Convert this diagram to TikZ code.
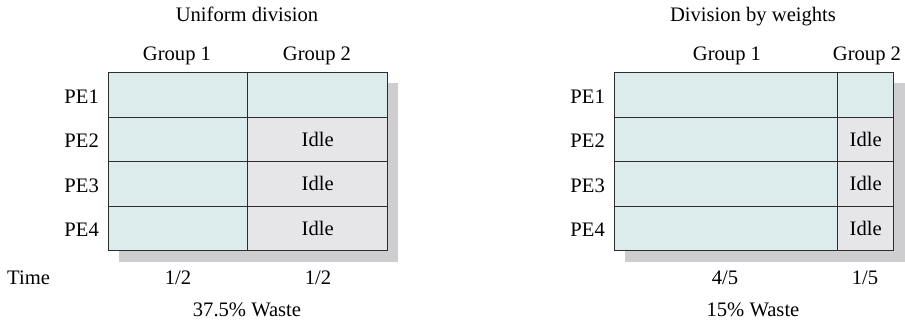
\documentclass[tikz,border=0pt]{standalone}
\usepackage{fontspec}
\setmainfont{Liberation Serif}
\definecolor{work}{RGB}{220,236,236}
\definecolor{idle}{RGB}{230,230,232}
\definecolor{shade}{RGB}{206,206,208}
\definecolor{edge}{RGB}{45,45,45}
\begin{document}
\begin{tikzpicture}[x=1pt,y=-1pt,
  every node/.style={font=\fontsize{20.6}{24}\selectfont, text=black},
  cell/.style={draw=edge, line width=1.3pt, inner sep=0pt, anchor=north west, minimum height=44.5pt},
  workcell/.style={cell, fill=work},
  idlecell/.style={cell, fill=idle},
  lbl/.style={anchor=base, inner sep=0pt},
  rlbl/.style={anchor=base east, inner sep=0pt},
  shadow/.style={fill=shade, draw=none}]
\useasboundingbox (0,0) rectangle (905,322);
% ---------- Left: uniform division ----------
\fill[shadow] (119,83) rectangle (398,262);
\node[workcell, minimum width=139pt] (l11) at (108,72) {};
\node[workcell, minimum width=140pt] (l12) at (247,72) {};
\node[workcell, minimum width=139pt] (l21) at (108,116.5) {};
\node[idlecell, minimum width=140pt] (l22) at (247,116.5) {Idle};
\node[workcell, minimum width=139pt] (l31) at (108,161) {};
\node[idlecell, minimum width=140pt] (l32) at (247,161) {Idle};
\node[workcell, minimum width=139pt] (l41) at (108,205.5) {};
\node[idlecell, minimum width=140pt] (l42) at (247,205.5) {Idle};
\node[lbl] (ltitle) at (247,21) {Uniform division};
\node[lbl] (lg1) at (177,60) {Group 1};
\node[lbl] (lg2) at (317,60) {Group 2};
\node[rlbl] (lpe1) at (99,103) {PE1};
\node[rlbl] (lpe2) at (99,147.5) {PE2};
\node[rlbl] (lpe3) at (99,192) {PE3};
\node[rlbl] (lpe4) at (99,236.5) {PE4};
\node[anchor=base west, inner sep=0pt] (time) at (7,284) {Time};
\node[lbl] (lt1) at (178,284) {1/2};
\node[lbl] (lt2) at (318,284) {1/2};
\node[lbl] (lwaste) at (247,316) {37.5\% Waste};
% ---------- Right: division by weights ----------
\fill[shadow] (625,83) rectangle (905,262);
\node[workcell, minimum width=223pt] (r11) at (614,72) {};
\node[workcell, minimum width=56pt] (r12) at (837,72) {};
\node[workcell, minimum width=223pt] (r21) at (614,116.5) {};
\node[idlecell, minimum width=56pt] (r22) at (837,116.5) {Idle};
\node[workcell, minimum width=223pt] (r31) at (614,161) {};
\node[idlecell, minimum width=56pt] (r32) at (837,161) {Idle};
\node[workcell, minimum width=223pt] (r41) at (614,205.5) {};
\node[idlecell, minimum width=56pt] (r42) at (837,205.5) {Idle};
\node[lbl] (rtitle) at (753,21) {Division by weights};
\node[lbl] (rg1) at (727,60) {Group 1};
\node[lbl] (rg2) at (867,60) {Group 2};
\node[rlbl] (rpe1) at (605,103) {PE1};
\node[rlbl] (rpe2) at (605,147.5) {PE2};
\node[rlbl] (rpe3) at (605,192) {PE3};
\node[rlbl] (rpe4) at (605,236.5) {PE4};
\node[lbl] (rt1) at (725,284) {4/5};
\node[lbl] (rt2) at (865,284) {1/5};
\node[lbl] (rwaste) at (753,316) {15\% Waste};
\end{tikzpicture}
\end{document}
